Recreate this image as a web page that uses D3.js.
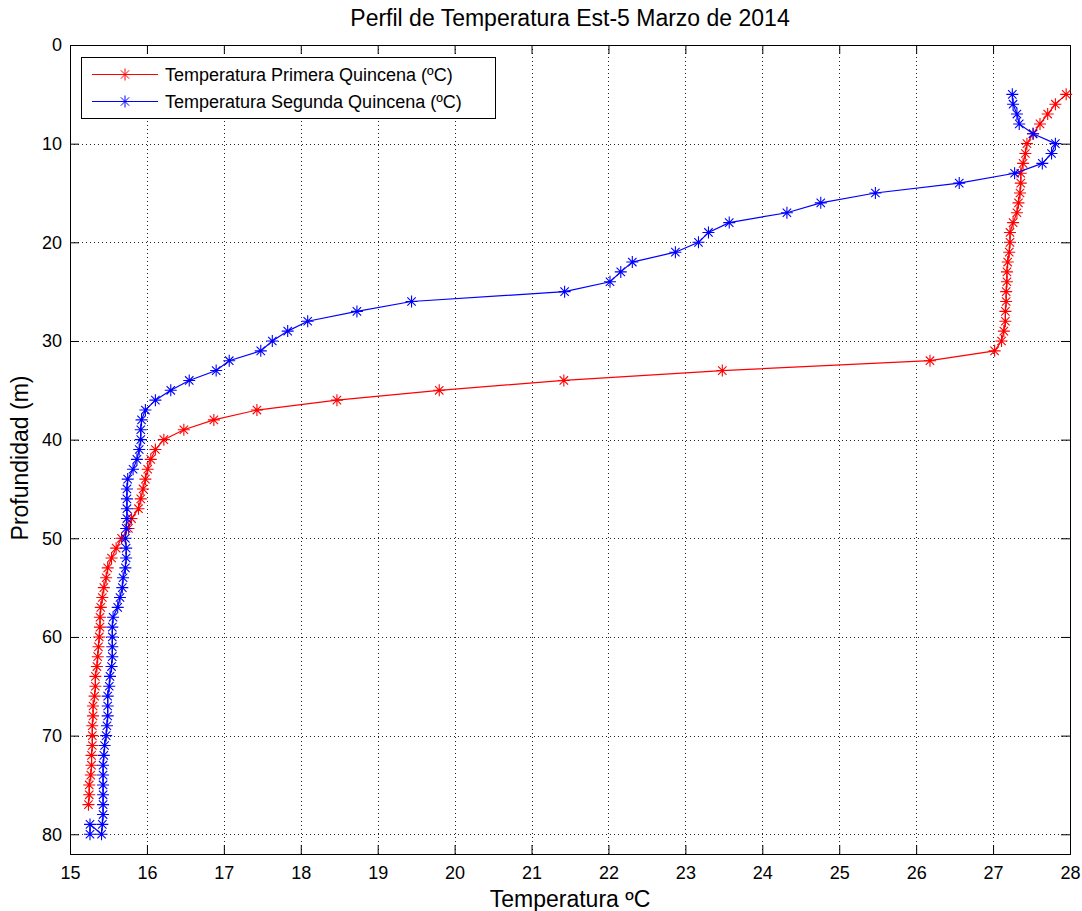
<!DOCTYPE html>
<html>
<head>
<meta charset="utf-8">
<script src="https://cdn.jsdelivr.net/npm/d3@7"></script>
<style>
    body { margin: 0; background: #fff; }
    svg { display: block; font-family: "Liberation Sans", Arial, sans-serif; }
    .grid line { stroke: #222; stroke-dasharray: 1,3; shape-rendering: crispEdges; }
    .tick-label { font-size: 18px; fill: #000; }
</style>
</head>
<body>
<div id="chart"></div>
<script>
// Profundidad (m) de cada lectura
const depthPrimera = [5, 6, 7, 8, 9, 10, 11, 12, 13, 14, 15, 16, 17, 18, 19, 20, 21, 22, 23, 24,
    25, 26, 27, 28, 29, 30, 31, 32, 33, 34, 35, 36, 37, 38, 39, 40, 41, 42, 43, 44,
    45, 46, 47, 48, 49, 50, 51, 52, 53, 54, 55, 56, 57, 58, 59, 60, 61, 62, 63, 64,
    65, 66, 67, 68, 69, 70, 71, 72, 73, 74, 75, 76, 77];
const tempPrimera = [27.95, 27.81, 27.71, 27.61, 27.52, 27.44, 27.42, 27.39, 27.36, 27.36,
    27.35, 27.33, 27.31, 27.26, 27.22, 27.22, 27.21, 27.19, 27.18, 27.18,
    27.17, 27.17, 27.16, 27.16, 27.14, 27.11, 27.02, 26.18, 23.48, 21.42,
    19.80, 18.47, 17.43, 16.87, 16.48, 16.22, 16.11, 16.05, 16.01, 15.98,
    15.95, 15.92, 15.89, 15.80, 15.76, 15.67, 15.60, 15.54, 15.49, 15.47,
    15.44, 15.42, 15.40, 15.39, 15.39, 15.38, 15.37, 15.36, 15.35, 15.33,
    15.33, 15.32, 15.30, 15.30, 15.29, 15.29, 15.29, 15.28, 15.28, 15.27,
    15.25, 15.25, 15.24];

const depthSegunda = [5, 6, 7, 8, 9, 10, 11, 12, 13, 14, 15, 16, 17, 18, 19, 20, 21, 22, 23, 24,
    25, 26, 27, 28, 29, 30, 31, 32, 33, 34, 35, 36, 37, 38, 39, 40, 41, 42, 43, 44,
    45, 46, 47, 48, 49, 50, 51, 52, 53, 54, 55, 56, 57, 58, 59, 60, 61, 62, 63, 64,
    65, 66, 67, 68, 69, 70, 71, 72, 73, 74, 75, 76, 77, 78, 79, 80, 79, 80];
const tempSegunda = [27.25, 27.26, 27.31, 27.34, 27.52, 27.81, 27.76, 27.64, 27.28, 26.56,
    25.47, 24.76, 24.32, 23.57, 23.30, 23.17, 22.87, 22.31, 22.16, 22.02,
    21.43, 19.44, 18.73, 18.09, 17.83, 17.63, 17.48, 17.07, 16.90, 16.55,
    16.31, 16.11, 15.98, 15.93, 15.92, 15.92, 15.90, 15.87, 15.82, 15.75,
    15.74, 15.74, 15.74, 15.74, 15.73, 15.72, 15.73, 15.73, 15.72, 15.69,
    15.68, 15.65, 15.62, 15.56, 15.55, 15.55, 15.55, 15.55, 15.54, 15.52,
    15.51, 15.49, 15.49, 15.49, 15.48, 15.47, 15.45, 15.44, 15.43, 15.43,
    15.43, 15.43, 15.43, 15.43, 15.42, 15.41, 15.26, 15.26];

const seriesNames = ["Temperatura Primera Quincena (ºC)", "Temperatura Segunda Quincena (ºC)"];
const seriesColors = ["#ff0000", "#0000ff"];
const xTicks = [15, 16, 17, 18, 19, 20, 21, 22, 23, 24, 25, 26, 27, 28];
const yTicks = [0, 10, 20, 30, 40, 50, 60, 70, 80];

const W = 1082, H = 911;
const plot = { left: 70, right: 1070, top: 45, bottom: 854 };

const svg = d3.select("#chart")
    .append("svg")
    .attr("width", W)
    .attr("height", H);

const x = d3.scaleLinear().domain([15, 28]).range([plot.left, plot.right]);
const y = d3.scaleLinear().domain([0, 82]).range([plot.top, plot.bottom]);

// rejilla punteada
const grid = svg.append("g").attr("class", "grid");
grid.selectAll("line.v")
    .data(xTicks.slice(1, -1))
    .enter()
    .append("line")
    .attr("x1", d => Math.round(x(d)) + 0.5)
    .attr("x2", d => Math.round(x(d)) + 0.5)
    .attr("y1", plot.top)
    .attr("y2", plot.bottom);
grid.selectAll("line.h")
    .data(yTicks.slice(1))
    .enter()
    .append("line")
    .attr("y1", d => Math.round(y(d)) + 0.5)
    .attr("y2", d => Math.round(y(d)) + 0.5)
    .attr("x1", plot.left)
    .attr("x2", plot.right);

// ejes (ticks hacia dentro, caja cerrada)
const tickLen = 9;
svg.append("g")
    .attr("transform", `translate(0,${plot.bottom})`)
    .call(d3.axisBottom(x).tickValues(xTicks).tickSize(-tickLen).tickPadding(12).tickFormat(d3.format("d")));
svg.append("g")
    .attr("transform", `translate(0,${plot.top})`)
    .call(d3.axisTop(x).tickValues(xTicks).tickSize(-tickLen).tickFormat(""));
svg.append("g")
    .attr("transform", `translate(${plot.left},0)`)
    .call(d3.axisLeft(y).tickValues(yTicks).tickSize(-tickLen).tickPadding(8).tickFormat(d3.format("d")));
svg.append("g")
    .attr("transform", `translate(${plot.right},0)`)
    .call(d3.axisRight(y).tickValues(yTicks).tickSize(-tickLen).tickFormat(""));

svg.selectAll(".domain").attr("stroke", "#000").attr("stroke-width", 1);
svg.selectAll(".tick line").attr("stroke", "#000");
svg.selectAll(".tick text")
    .attr("class", "tick-label")
    .attr("font-family", null)
    .attr("font-size", null);

// marcador asterisco estilo MATLAB
const r = 6, a = 4.2;
const asterisk = `M${-r},0L${r},0M0,${-r}L0,${r}M${-a},${-a}L${a},${a}M${-a},${a}L${a},${-a}`;

const series = [
    { name: seriesNames[0], color: seriesColors[0], depth: depthPrimera, temp: tempPrimera },
    { name: seriesNames[1], color: seriesColors[1], depth: depthSegunda, temp: tempSegunda }
];

const line = d3.line()
    .x(d => x(d[0]))
    .y(d => y(d[1]));

series.forEach(s => {
    const pts = s.temp.map((t, i) => [t, s.depth[i]]);
    const g = svg.append("g");
    g.append("path")
        .datum(pts)
        .attr("fill", "none")
        .attr("stroke", s.color)
        .attr("stroke-width", 1.2)
        .attr("d", line);
    g.selectAll("path.mk")
        .data(pts)
        .enter()
        .append("path")
        .attr("class", "mk")
        .attr("transform", d => `translate(${x(d[0])},${y(d[1])})`)
        .attr("d", asterisk)
        .attr("fill", "none")
        .attr("stroke", s.color)
        .attr("stroke-width", 1.1);
});

// leyenda
const legend = svg.append("g");
legend.append("rect")
    .attr("x", 81.5).attr("y", 57.5)
    .attr("width", 414).attr("height", 61)
    .attr("fill", "#fff").attr("stroke", "#000");
series.forEach((s, i) => {
    const ly = 74.5 + i * 27;
    legend.append("line")
        .attr("x1", 92).attr("x2", 158)
        .attr("y1", ly).attr("y2", ly)
        .attr("stroke", s.color);
    legend.append("path")
        .attr("transform", `translate(125,${ly})`)
        .attr("d", asterisk)
        .attr("fill", "none")
        .attr("stroke", s.color);
    legend.append("text")
        .attr("x", 165).attr("y", ly)
        .attr("dy", "0.36em")
        .attr("font-size", 18)
        .text(s.name);
});

// títulos
svg.append("text")
    .attr("x", (plot.left + plot.right) / 2)
    .attr("y", 26)
    .attr("text-anchor", "middle")
    .attr("font-size", 23)
    .text("Perfil de Temperatura Est-5 Marzo de 2014");
svg.append("text")
    .attr("x", (plot.left + plot.right) / 2)
    .attr("y", 907)
    .attr("text-anchor", "middle")
    .attr("font-size", 23)
    .text("Temperatura ºC");
svg.append("text")
    .attr("transform", `translate(28,458) rotate(-90)`)
    .attr("text-anchor", "middle")
    .attr("font-size", 23)
    .text("Profundidad (m)");
</script>
</body>
</html>
